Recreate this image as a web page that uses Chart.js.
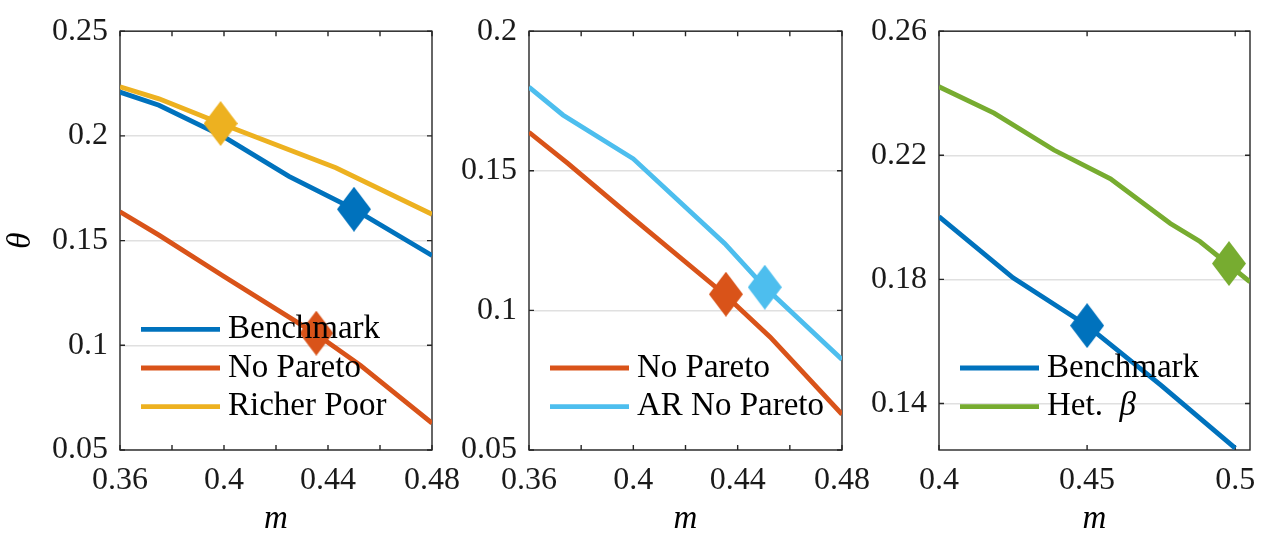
<!DOCTYPE html>
<html>
<head>
<meta charset="utf-8">
<script src="https://cdn.jsdelivr.net/npm/chart.js@4.4.1/dist/chart.umd.min.js"></script>
<style>
  html, body { margin: 0; padding: 0; background: #fff; }
  #wrap { position: relative; width: 1267px; height: 539px; }
  #wrap canvas { position: absolute; left: 0; top: 0; }
</style>
</head>
<body>
<div id="wrap">
  <canvas id="c1" width="1267" height="539"></canvas>
  <canvas id="c2" width="1267" height="539"></canvas>
  <canvas id="c3" width="1267" height="539"></canvas>
</div>
<script>
// panel 1
const benchM1 = [0.36, 0.375, 0.4, 0.425, 0.45, 0.475, 0.48];
const bench1 = [0.2209, 0.2146, 0.1995, 0.1807, 0.1650, 0.1466, 0.1429];
const noParetoM = [0.36, 0.375, 0.4, 0.435, 0.4525, 0.48];
const noPareto = [0.1638, 0.1526, 0.1329, 0.1057, 0.0904, 0.0628];
const richerM = [0.36, 0.375, 0.4, 0.425, 0.443, 0.48];
const richer = [0.2235, 0.2177, 0.2053, 0.1934, 0.1848, 0.1626];
const benchMark1 = [0.45, 0.165];
const noParetoMark = [0.4355, 0.1058];
const richerMark = [0.3987, 0.2059];
const xTicks1 = [0.36, 0.38, 0.4, 0.42, 0.44, 0.46, 0.48];
const xLabels1 = ['0.36', '', '0.4', '', '0.44', '', '0.48'];
const yTicks1 = [0.05, 0.1, 0.15, 0.2, 0.25];
const yLabels1 = ['0.05', '0.1', '0.15', '0.2', '0.25'];

// panel 2
const arM = [0.36, 0.373, 0.4, 0.435, 0.45, 0.48];
const arNoPareto = [0.1800, 0.1700, 0.1543, 0.1240, 0.1087, 0.0824];
const arMark = [0.4504, 0.1083];
const yTicks2 = [0.05, 0.1, 0.15, 0.2];
const yLabels2 = ['0.05', '0.1', '0.15', '0.2'];

// panel 3
const benchM3 = [0.4, 0.425, 0.45, 0.475, 0.5];
const bench3 = [0.2002, 0.1805, 0.1651, 0.1458, 0.1256];
const hetM = [0.4, 0.4186, 0.4388, 0.4579, 0.4781, 0.4881, 0.505];
const hetBeta = [0.2421, 0.2336, 0.2217, 0.2124, 0.1980, 0.1922, 0.1792];
const benchMark3 = [0.45, 0.1651];
const hetMark = [0.4979, 0.1851];
const xTicks3 = [0.4, 0.45, 0.5];
const xLabels3 = ['0.4', '0.45', '0.5'];
const yTicks3 = [0.14, 0.18, 0.22, 0.26];
const yLabels3 = ['0.14', '0.18', '0.22', '0.26'];

const blue = '#0072BD', orange = '#D95319', yellow = '#EDB120', cyan = '#4DBEEE', green = '#77AC30';
const serif = "'Liberation Serif', 'Times New Roman', serif";
const W = 1267, H = 539, TOP = 27, BOTTOM = 450;
const LW = 4.8;

Chart.defaults.font.family = serif;
Chart.defaults.color = '#111';

function diamond(color) {
    const c = document.createElement('canvas');
    c.width = 34; c.height = 45;
    const g = c.getContext('2d');
    g.fillStyle = color;
    g.beginPath();
    g.moveTo(17, 0); g.lineTo(34, 22.5); g.lineTo(17, 45); g.lineTo(0, 22.5);
    g.closePath();
    g.fill();
    return c;
}

function line(label, xs, ys, color, order) {
    return {
        label: label,
        data: xs.map((x, i) => ({ x: x, y: ys[i] })),
        borderColor: color,
        borderWidth: LW,
        pointRadius: 0,
        tension: 0,
        fill: false,
        order: order
    };
}

function marker(pt, color) {
    return {
        label: '',
        data: [{ x: pt[0], y: pt[1] }],
        showLine: false,
        pointStyle: diamond(color),
        pointRadius: 16,
        order: 0
    };
}

// box round the plot with inward ticks on all four sides
const frame = {
    id: 'frame',
    beforeDatasetsDraw(chart) {
        const { ctx, chartArea: a, scales } = chart;
        ctx.save();
        ctx.strokeStyle = '#262626';
        ctx.lineWidth = 1.4;
        ctx.strokeRect(a.left, a.top, a.right - a.left, a.bottom - a.top);
        ctx.beginPath();
        scales.x.ticks.forEach(t => {
            const px = scales.x.getPixelForValue(t.value);
            ctx.moveTo(px, a.bottom); ctx.lineTo(px, a.bottom - 5);
            ctx.moveTo(px, a.top); ctx.lineTo(px, a.top + 5);
        });
        scales.y.ticks.forEach(t => {
            const py = scales.y.getPixelForValue(t.value);
            ctx.moveTo(a.left, py); ctx.lineTo(a.left + 5, py);
            ctx.moveTo(a.right, py); ctx.lineTo(a.right - 5, py);
        });
        ctx.stroke();
        ctx.restore();
    }
};

function drawLabel(ctx, text, x, y) {
    text.split(/([\u0370-\u03ff])/).forEach(p => {
        if (!p) return;
        ctx.font = (/[\u0370-\u03ff]/.test(p) ? 'italic ' : '') + '33px ' + serif;
        ctx.fillText(p, x, y);
        x += ctx.measureText(p).width;
    });
}

// legend sits inside the plot, bottom left, no box
const insetLegend = {
    id: 'insetLegend',
    afterDatasetsDraw(chart) {
        const { ctx, chartArea: a } = chart;
        const items = chart.data.datasets.filter(d => d.label);
        ctx.save();
        ctx.fillStyle = '#000';
        ctx.textBaseline = 'alphabetic';
        items.forEach((d, i) => {
            const y = a.bottom - 43.3 - (items.length - 1 - i) * 38.7;
            ctx.strokeStyle = d.borderColor;
            ctx.lineWidth = LW;
            ctx.beginPath();
            ctx.moveTo(a.left + 21, y);
            ctx.lineTo(a.left + 100, y);
            ctx.stroke();
            drawLabel(ctx, d.label, a.left + 108, y + 8.5);
        });
        ctx.restore();
    }
};

function makePanel(id, datasets, opt) {
    const tickFont = { family: serif, size: 32 };
    return new Chart(document.getElementById(id), {
        type: 'line',
        data: { datasets: datasets },
        options: {
            responsive: false,
            animation: false,
            devicePixelRatio: 1,
            layout: { padding: { left: opt.left - opt.yWidth, right: W - opt.right, top: TOP, bottom: 0 } },
            plugins: { legend: { display: false }, tooltip: { enabled: false } },
            scales: {
                x: {
                    type: 'linear',
                    min: opt.xMin,
                    max: opt.xMax,
                    afterBuildTicks: s => { s.ticks = opt.xTicks.map(v => ({ value: v })); },
                    afterFit: s => { s.height = H - BOTTOM; },
                    ticks: {
                        callback: (v, i) => opt.xLabels[i],
                        autoSkip: false,
                        maxRotation: 0,
                        font: tickFont,
                        color: '#1a1a1a',
                        padding: 11
                    },
                    grid: { display: false, drawTicks: false },
                    border: { display: false },
                    title: {
                        display: true,
                        text: 'm',
                        color: '#000',
                        font: { family: serif, size: 33, style: 'italic' },
                        padding: { top: 0, bottom: 0 }
                    }
                },
                y: {
                    type: 'linear',
                    min: opt.yMin,
                    max: opt.yMax,
                    afterBuildTicks: s => { s.ticks = opt.yTicks.map(v => ({ value: v })); },
                    afterFit: s => { s.width = opt.yWidth; },
                    ticks: {
                        callback: (v, i) => opt.yLabels[i],
                        font: tickFont,
                        color: '#1a1a1a',
                        padding: 12
                    },
                    grid: { color: '#e0e0e0', lineWidth: 1.5, drawTicks: false },
                    border: { display: false },
                    title: {
                        display: !!opt.yTitle,
                        text: opt.yTitle || '',
                        color: '#000',
                        font: { family: serif, size: 33, style: 'italic' },
                        padding: { top: 2, bottom: 0 }
                    }
                }
            }
        },
        plugins: [frame, insetLegend]
    });
}

makePanel('c1', [
    marker(richerMark, yellow),
    marker(benchMark1, blue),
    marker(noParetoMark, orange),
    line('Benchmark', benchM1, bench1, blue, 3),
    line('No Pareto', noParetoM, noPareto, orange, 2),
    line('Richer Poor', richerM, richer, yellow, 1)
], {
    left: 120, right: 432, yWidth: 120, yTitle: 'θ',
    xMin: 0.36, xMax: 0.48, xTicks: xTicks1, xLabels: xLabels1,
    yMin: 0.05, yMax: 0.25, yTicks: yTicks1, yLabels: yLabels1
});

makePanel('c2', [
    marker(noParetoMark, orange),
    marker(arMark, cyan),
    line('No Pareto', noParetoM, noPareto, orange, 2),
    line('AR No Pareto', arM, arNoPareto, cyan, 1)
], {
    left: 529, right: 842, yWidth: 90,
    xMin: 0.36, xMax: 0.48, xTicks: xTicks1, xLabels: xLabels1,
    yMin: 0.05, yMax: 0.2, yTicks: yTicks2, yLabels: yLabels2
});

makePanel('c3', [
    marker(benchMark3, blue),
    marker(hetMark, green),
    line('Benchmark', benchM3, bench3, blue, 2),
    line('Het. \u2005β', hetM, hetBeta, green, 1)
], {
    left: 939, right: 1251, yWidth: 90,
    xMin: 0.4, xMax: 0.505, xTicks: xTicks3, xLabels: xLabels3,
    yMin: 0.125, yMax: 0.26, yTicks: yTicks3, yLabels: yLabels3
});
</script>
</body>
</html>
